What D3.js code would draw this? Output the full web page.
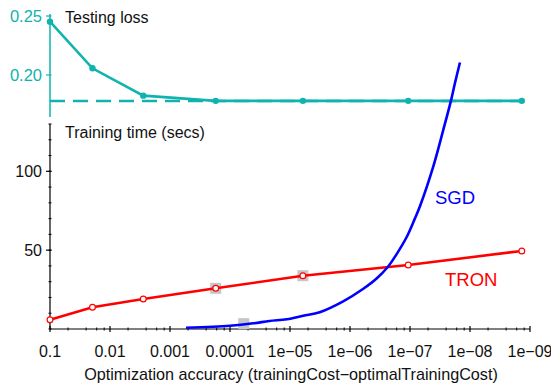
<!DOCTYPE html>
<html>
<head>
<meta charset="utf-8">
<script src="https://cdn.jsdelivr.net/npm/d3@7"></script>
<style>
  body { margin: 0; background: #fff; }
  text { font-family: "Liberation Sans", Arial, Helvetica, sans-serif; }
</style>
</head>
<body>
<div id="chart"></div>
<script>
// accuracy levels at which TRON was stopped (also used by the testing loss panel)
const tronAccuracy = [0.1, 1.96e-2, 2.79e-3, 1.73e-4, 6.1e-6, 1.07e-7, 1.37e-9];
const tronTime = [5.9, 13.8, 19.0, 25.8, 33.8, 40.6, 49.5];
const testingLoss = [0.2452, 0.2057, 0.1825, 0.1781, 0.1781, 0.1781, 0.1781];
const bestTestingLoss = 0.178;

// SGD curve
const sgdAccuracy = [5.4e-4, 1.0e-4, 4.1e-5, 2.2e-5, 1.13e-5, 6.0e-6, 3.2e-6, 1.3e-6,
  6.0e-7, 3.6e-7, 2.35e-7, 1.67e-7, 1.13e-7, 8.3e-8, 6.8e-8, 4.1e-8, 2.8e-8, 2.1e-8, 1.78e-8, 1.47e-8];
const sgdTime = [0.8, 2.1, 3.6, 5.1, 6.2, 8.4, 10.6, 17.5,
  25.5, 32.0, 39.3, 47.5, 58.5, 70, 78, 103, 126, 144, 156, 169];

// grey markers
const markerAccuracy = [1.73e-4, 6.1e-6, 5.9e-5];
const markerTime = [25.8, 33.8, 3.4];

const xTickValues = [1e-1, 1e-2, 1e-3, 1e-4, 1e-5, 1e-6, 1e-7, 1e-8, 1e-9];
const xTickLabels = ['0.1', '0.01', '0.001', '0.0001', '1e\u221205', '1e\u221206', '1e\u221207', '1e\u221208', '1e\u221209'];
const timeTicks = [50, 100];
const lossTicks = [0.20, 0.25];
const lossTickLabels = ['0.20', '0.25'];

const width = 551, height = 385;
const teal = '#10b3ae';

const svg = d3.select('#chart').append('svg')
  .attr('width', width)
  .attr('height', height);

const x = d3.scaleLog().domain([0.1, 1e-9]).range([50, 530]);
const y = d3.scaleLinear().domain([0, 130]).range([329, 124]);
const yLoss = d3.scaleLinear().domain([0.1644, 0.2517]).range([117, 14]);

// minor ticks: 2,4,6,8 per decade of 1/accuracy
const xMinor = [];
for (let k = 1; k <= 8; k++) {
  [2, 4, 6, 8].forEach(m => xMinor.push(Math.pow(10, -k) / m));
}

// ---- bottom x axis
const gx = svg.append('g').attr('transform', 'translate(0,329)');
gx.append('line').attr('x1', 50).attr('x2', 530).attr('stroke', '#000').attr('stroke-width', 1.2);
gx.selectAll('.minor').data(xMinor).enter().append('line')
  .attr('x1', d => x(d)).attr('x2', d => x(d))
  .attr('y1', -1.5).attr('y2', 1.5)
  .attr('stroke', '#000').attr('stroke-width', 1);
gx.selectAll('.major').data(xTickValues).enter().append('line')
  .attr('x1', d => x(d)).attr('x2', d => x(d))
  .attr('y1', -3).attr('y2', 3)
  .attr('stroke', '#000').attr('stroke-width', 1.2);
gx.selectAll('.lbl').data(xTickValues).enter().append('text')
  .attr('x', d => x(d)).attr('y', 27.5)
  .attr('text-anchor', 'middle')
  .attr('font-size', 16)
  .attr('fill', '#111')
  .text((d, i) => xTickLabels[i]);

svg.append('text')
  .attr('x', 291).attr('y', 380)
  .attr('text-anchor', 'middle')
  .attr('font-size', 16.2)
  .attr('fill', '#111')
  .text('Optimization accuracy (trainingCost\u2212optimalTrainingCost)');

// ---- bottom y axis (training time)
const gy = svg.append('g').attr('transform', 'translate(50,0)');
gy.append('line').attr('y1', y(0)).attr('y2', y(130)).attr('stroke', '#000').attr('stroke-width', 1.2);
gy.selectAll('.minor').data(d3.range(0, 131, 10)).enter().append('line')
  .attr('y1', d => y(d)).attr('y2', d => y(d))
  .attr('x1', -1.5).attr('x2', 1.5)
  .attr('stroke', '#000').attr('stroke-width', 1);
gy.selectAll('.major').data(timeTicks).enter().append('line')
  .attr('y1', d => y(d)).attr('y2', d => y(d))
  .attr('x1', -4).attr('x2', 1.5)
  .attr('stroke', '#000').attr('stroke-width', 1.2);
gy.selectAll('.lbl').data(timeTicks).enter().append('text')
  .attr('x', -8).attr('y', d => y(d)).attr('dy', '0.35em')
  .attr('text-anchor', 'end')
  .attr('font-size', 16)
  .attr('fill', '#111')
  .text(d => d);

svg.append('text').attr('x', 65).attr('y', 138)
  .attr('font-size', 16).attr('fill', '#111')
  .text('Training time (secs)');

// ---- top y axis (testing loss)
const gl = svg.append('g').attr('transform', 'translate(50,0)');
gl.append('line').attr('y1', yLoss.range()[0]).attr('y2', yLoss.range()[1])
  .attr('stroke', teal).attr('stroke-width', 1.5);
gl.selectAll('.major').data(lossTicks).enter().append('line')
  .attr('y1', d => yLoss(d)).attr('y2', d => yLoss(d))
  .attr('x1', -4).attr('x2', 1.5)
  .attr('stroke', teal).attr('stroke-width', 1.2);
gl.selectAll('.lbl').data(lossTicks).enter().append('text')
  .attr('x', -8).attr('y', d => yLoss(d)).attr('dy', '0.35em')
  .attr('text-anchor', 'end')
  .attr('font-size', 16.5)
  .attr('fill', teal)
  .text((d, i) => lossTickLabels[i]);

svg.append('text').attr('x', 65).attr('y', 23)
  .attr('font-size', 16).attr('fill', '#111')
  .text('Testing loss');

// ---- grey markers
const ms = 11;
svg.selectAll('.marker').data(markerAccuracy).enter().append('rect')
  .attr('x', d => x(d) - ms / 2)
  .attr('y', (d, i) => y(markerTime[i]) - ms / 2)
  .attr('width', ms).attr('height', ms)
  .attr('fill', '#c6c6c6');

// ---- testing loss lines
svg.append('line')
  .attr('x1', 50).attr('x2', x(tronAccuracy[tronAccuracy.length - 1]))
  .attr('y1', yLoss(bestTestingLoss)).attr('y2', yLoss(bestTestingLoss))
  .attr('stroke', teal).attr('stroke-width', 2.5)
  .attr('stroke-dasharray', '15,8');

const lossLine = d3.line()
  .x((d, i) => x(tronAccuracy[i]))
  .y(d => yLoss(d));
svg.append('path').datum(testingLoss)
  .attr('d', lossLine)
  .attr('fill', 'none').attr('stroke', teal).attr('stroke-width', 2.6);
svg.selectAll('.lossdot').data(testingLoss).enter().append('circle')
  .attr('cx', (d, i) => x(tronAccuracy[i]))
  .attr('cy', d => yLoss(d))
  .attr('r', 3.2).attr('fill', teal);

// ---- TRON
const tronLine = d3.line()
  .x((d, i) => x(tronAccuracy[i]))
  .y(d => y(d));
svg.append('path').datum(tronTime)
  .attr('d', tronLine)
  .attr('fill', 'none').attr('stroke', '#ff0000').attr('stroke-width', 2.6);
svg.selectAll('.trondot').data(tronTime).enter().append('circle')
  .attr('cx', (d, i) => x(tronAccuracy[i]))
  .attr('cy', d => y(d))
  .attr('r', 2.9).attr('fill', '#fff')
  .attr('stroke', '#ff0000').attr('stroke-width', 1.2);

// ---- SGD
const sgdLine = d3.line()
  .x((d, i) => x(sgdAccuracy[i]))
  .y(d => y(d))
  .curve(d3.curveCatmullRom);
svg.append('path').datum(sgdTime)
  .attr('d', sgdLine)
  .attr('fill', 'none').attr('stroke', '#0000ff').attr('stroke-width', 2.6);

svg.append('text').attr('x', 435).attr('y', 204)
  .attr('font-size', 18.5).attr('fill', '#0000ff').text('SGD');
svg.append('text').attr('x', 445).attr('y', 285.5)
  .attr('font-size', 18.5).attr('fill', '#ff0000').text('TRON');
</script>
</body>
</html>
